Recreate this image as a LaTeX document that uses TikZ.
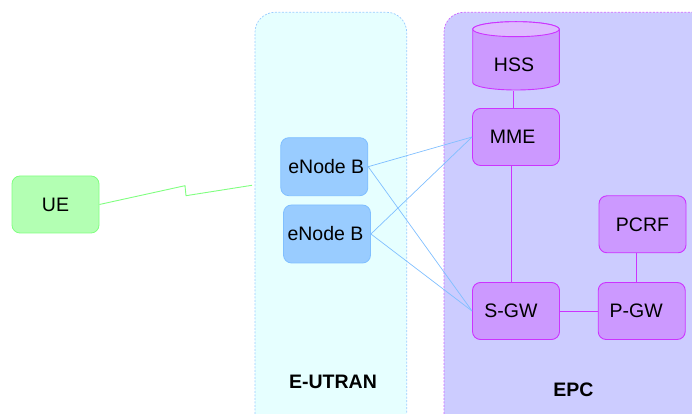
\documentclass[tikz,border=0pt]{standalone}
\usepackage{fontspec}
\setmainfont{Liberation Sans}
\begin{document}
\begin{tikzpicture}[x=1pt,y=1pt,
  font=\fontsize{19.5}{22}\selectfont,
  every node/.style={inner sep=0pt},
  group/.style={rounded corners=20pt, dashed, dash pattern=on 2pt off 1.5pt, line width=0.7pt},
  uebox/.style={draw=ueedge, fill=uefill, rounded corners=8pt, line width=0.8pt, minimum width=87pt, minimum height=57pt},
  enbbox/.style={draw=enbedge, fill=enbfill, rounded corners=8pt, line width=0.8pt, minimum width=87pt, minimum height=58pt},
  corebox/.style={draw=coreedge, fill=corefill, rounded corners=8pt, line width=0.9pt, minimum width=87pt, minimum height=57pt},
  grouplabel/.style={font=\fontsize{19.5}{22}\selectfont\bfseries},
  radiolink/.style={draw=ueedge, line width=0.9pt},
  s1link/.style={draw=enbedge, line width=0.7pt},
  corelink/.style={draw=coreedge, line width=0.9pt}]
\definecolor{uefill}{HTML}{B3FFB3}
\definecolor{ueedge}{HTML}{80FF80}
\definecolor{eutranfill}{HTML}{E6FFFF}
\definecolor{eutranedge}{HTML}{99CCFF}
\definecolor{enbfill}{HTML}{99CCFF}
\definecolor{enbedge}{HTML}{80BFFF}
\definecolor{epcfill}{HTML}{CCCCFF}
\definecolor{epcedge}{HTML}{CC66FF}
\definecolor{corefill}{HTML}{CC99FF}
\definecolor{coreedge}{HTML}{CC33FF}
\definecolor{hsstop}{HTML}{DDBBFF}

\useasboundingbox (0,0) rectangle (692,414);

% access and core network areas
\draw[group, draw=eutranedge, fill=eutranfill] (255,-20) rectangle (406.7,401.7);
\draw[group, draw=epcedge, fill=epcfill] (444,-20) rectangle (720,401.7);
\node[grouplabel] (eutranlbl) at (333,32.3) {E-UTRAN};
\node[grouplabel] (epclbl) at (573.3,24) {EPC};

% user equipment and radio link
\node[uebox] (ue) at (55.5,209.5) {UE};
\coordinate (k1) at (185,228.3);
\coordinate (k2) at (186,218.3);
\coordinate (air) at (252,228.7);
\draw[radiolink] (ue.east) -- (k1) -- (k2) -- (air);

% base stations
\node[enbbox] (enb1) at (324.3,247.3) {\hspace*{4pt}eNode B};
\node[enbbox] (enb2) at (327,180) {eNode B\hspace*{3pt}};

% HSS database cylinder
\fill[corefill, draw=coreedge, line width=0.9pt]
  (472.7,384.8) -- (472.7,331.5) arc (180:360:43.3 and 7.5) -- (559.3,384.8) arc (0:180:43.3 and 7.5) -- cycle;
\fill[hsstop, draw=coreedge, line width=0.9pt] (516,384.8) ellipse (43.3 and 7.5);
\node[minimum width=87pt, minimum height=53pt] (hss) at (516,349.5) {HSS\hspace*{4pt}};

% core network elements
\node[corebox] (mme) at (516,277) {MME\hspace*{7pt}};
\node[corebox] (sgw) at (516,103) {S-GW\hspace*{10pt}};
\node[corebox] (pgw) at (641.7,103) {P-GW\hspace*{11pt}};
\node[corebox] (pcrf) at (642.5,189.7) {PCRF};

% S1 interfaces
\draw[s1link] (enb1.east) -- (mme.west);
\draw[s1link] (enb1.east) -- (sgw.west);
\draw[s1link] (enb2.east) -- (mme.west);
\draw[s1link] (enb2.east) -- (sgw.west);

% core links
\draw[corelink] ([xshift=-2.7pt]hss.south) -- ([xshift=-2.7pt]mme.north);
\draw[corelink] ([xshift=-4.3pt]mme.south) -- ([xshift=-4.3pt]sgw.north);
\draw[corelink] (sgw.east) -- (pgw.west);
\draw[corelink] ([xshift=-5.8pt]pcrf.south) -- ([xshift=-5pt]pgw.north);
\end{tikzpicture}
\end{document}
